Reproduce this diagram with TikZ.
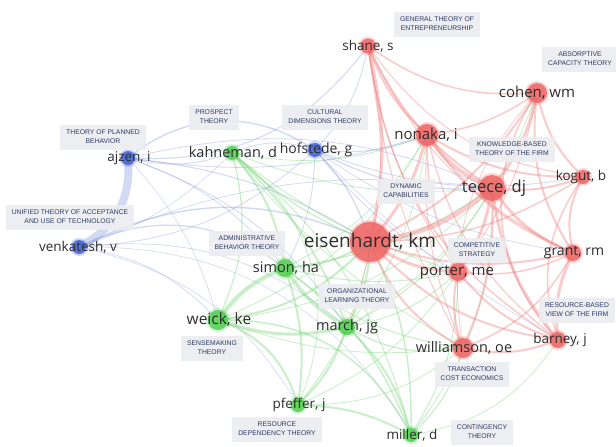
\documentclass[tikz,border=0pt]{standalone}
\usepackage{fontspec}
\setmainfont{Open Sans}
\newfontfamily\boxfont{Liberation Sans}
\definecolor{eRed}{RGB}{242,140,140}
\definecolor{eGreen}{RGB}{120,215,120}
\definecolor{eBlue}{RGB}{140,160,225}
\definecolor{nRed}{RGB}{238,95,95}
\definecolor{nGreen}{RGB}{75,205,75}
\definecolor{nBlue}{RGB}{55,90,215}
\definecolor{boxGray}{RGB}{236,237,240}
\definecolor{boxText}{RGB}{45,58,100}
\definecolor{labGray}{RGB}{45,45,45}
\tikzset{
  redE/.style={draw=eRed, line width=#1, draw opacity=0.45, line cap=round},
  greenE/.style={draw=eGreen, line width=#1, draw opacity=0.40, line cap=round},
  blueE/.style={draw=eBlue, line width=#1, draw opacity=0.40, line cap=round},
  lab/.style={font=\fontsize{#1}{#1}\selectfont, text=labGray, inner sep=0pt},
  theory/.style={fill=boxGray, fill opacity=0.9, text opacity=1, text=boxText,
    font=\boxfont\fontsize{6.8}{8.8}\selectfont, align=center,
    inner xsep=6pt, inner ysep=3.5pt, minimum height=25pt}
}
\begin{document}
\begin{tikzpicture}[x=1pt,y=-1pt]
\useasboundingbox (0,0) rectangle (616,447);
\fill[white] (0,0) rectangle (616,447);

% ---- node positions ----
\foreach \n/\x/\y in {sha/368/46, coh/537/93, non/427/135, kah/232/153,
  hof/315/150, ajz/128/158, tee/492/188, kog/583/177, eis/370/242,
  ven/79/247, sim/285/268, gra/573/253, por/458/272, wei/218/320,
  mar/347/327, wil/463/348, bar/558/340, pfe/298/405, mil/411/435}
  \node[circle, inner sep=0pt, minimum size=10pt] (\n) at (\x,\y) {};

% ---- edges ----
\draw[blueE=8] (ajz) to[bend left=32] (ven);
\foreach \a/\b/\w/\k in {
  ajz/hof/1.4/28, ajz/sha/1/-22, ajz/eis/1/10, ajz/sim/0.8/12, ajz/tee/0.8/14,
  ajz/non/0.8/-10, ajz/kah/0.8/-12, ajz/mar/0.8/14, ajz/wei/0.6/10,
  ven/eis/1.4/20, ven/sim/1.2/24, ven/hof/0.8/-15, ven/tee/0.7/12,
  ven/mar/0.7/18, ven/wei/0.7/14, ven/pfe/0.6/18, ven/mil/0.6/24, ven/kah/0.6/-10,
  hof/eis/1.2/10, hof/tee/1.2/-12, hof/non/1/-10, hof/kog/0.8/-12, hof/por/0.8/-8,
  hof/sha/0.8/-12, hof/sim/0.8/10, hof/kah/0.8/-15, hof/gra/0.7/-10, hof/bar/0.6/-6}
  {\pgfmathsetmacro\kk{1.25*\k}
  \draw[blueE=\w] (\a) to[bend left=\kk] (\b);}
% green
\foreach \a/\b/\w/\k in {
  kah/sim/2/12, kah/mar/1.8/10, kah/eis/1.2/-8, kah/wei/1.2/15, kah/mil/1/14,
  kah/tee/0.8/-10, kah/por/1/-8, kah/wil/0.8/-8, kah/pfe/0.8/30, kah/non/0.8/-12,
  sim/wei/4/-12, sim/mar/3.5/-10, sim/eis/2/-10, sim/pfe/2/10, sim/mil/1.4/12,
  sim/wil/1/-12, sim/tee/1/-10, sim/por/1/-10, sim/non/0.8/-12,
  wei/mar/3/-12, wei/eis/2/-15, wei/pfe/2/20, wei/mil/1.5/25, wei/tee/0.8/-15,
  wei/non/0.8/-15, wei/wil/0.8/-10,
  mar/eis/2/-10, mar/pfe/2/10, mar/mil/2/12, mar/tee/1/-12, mar/wil/1.2/-15,
  mar/coh/0.8/-15, mar/non/0.8/-12, mar/por/1/-12,
  pfe/mil/2/10, pfe/eis/1/-12, pfe/wil/0.8/-15, pfe/por/0.8/-12,
  mil/eis/1.5/-10, mil/por/1/-12, mil/wil/1.2/-12, mil/tee/0.8/-15, mil/bar/0.8/-18}
  {\pgfmathsetmacro\kk{1.25*\k}
  \draw[greenE=\w] (\a) to[bend left=\kk] (\b);}
% red
\foreach \a/\b/\w/\k in {
  sha/non/2/-10, sha/tee/2/-12, sha/eis/3/10, sha/coh/1.5/-15, sha/bar/1.5/-20,
  sha/kog/1/-18, sha/gra/1/-15, sha/por/1/-10, sha/wil/1/-8, sha/mar/0.8/12,
  coh/non/1.5/10, coh/tee/3/10, coh/kog/2/-12, coh/gra/2/-15, coh/eis/2/12,
  coh/bar/1.5/-30, coh/por/1/10, coh/wil/0.8/-20,
  non/tee/4/-12, non/eis/3/10, non/kog/2/-12, non/gra/2/-12, non/por/1.5/-10,
  non/bar/1.2/-15, non/wil/1/-10,
  tee/eis/5/12, tee/gra/3/-12, tee/bar/3/-12, tee/por/3/10, tee/kog/2/-10,
  tee/wil/2/10,
  eis/por/3/-12, eis/gra/2/-12, eis/bar/2/-15, eis/wil/2/-15, eis/kog/1.5/-12,
  por/wil/2/-12, por/bar/2/-12, por/gra/1.5/-12,
  wil/bar/2/-12, wil/gra/1.5/-15, gra/bar/3/-12, kog/gra/2/-15, kog/bar/1.5/-20}
  {\pgfmathsetmacro\kk{1.25*\k}
  \draw[redE=\w] (\a) to[bend left=\kk] (\b);}

% ---- circles (soft halo + core) ----
\foreach \n/\s/\c in {sha/15/nRed, coh/20/nRed, non/22/nRed, tee/26/nRed,
  kog/14/nRed, eis/40/nRed, gra/16/nRed, por/18/nRed, wil/20/nRed, bar/16/nRed,
  kah/14/nGreen, sim/18/nGreen, wei/20/nGreen, mar/16/nGreen, pfe/14/nGreen,
  mil/14/nGreen, hof/14/nBlue, ajz/14/nBlue, ven/14/nBlue}
  {\fill[\c, fill opacity=0.25] (\n) circle[radius=\s/2+2];
   \fill[\c, fill opacity=0.8] (\n) circle[radius=\s/2];}

% ---- theory boxes ----
\node[theory] (tGen) at (437,24) {GENERAL THEORY OF\\ENTREPRENEURSHIP};
\node[theory] (tAbs) at (580,59) {ABSORPTIVE\\CAPACITY THEORY};
\node[theory] (tPro) at (214,117) {PROSPECT\\THEORY};
\node[theory] (tCul) at (325,117) {CULTURAL\\DIMENSIONS THEORY};
\node[theory] (tTpb) at (103,137) {THEORY OF PLANNED\\BEHAVIOR};
\node[theory] (tKbt) at (512,149) {KNOWLEDGE-BASED\\THEORY OF THE FIRM};
\node[theory] (tDyn) at (406,191) {DYNAMIC\\CAPABILITIES};
\node[theory] (tUta) at (70,217) {UNIFIED THEORY OF ACCEPTANCE\\AND USE OF TECHNOLOGY};
\node[theory] (tAdm) at (247,243) {ADMINISTRATIVE\\BEHAVIOR THEORY};
\node[theory] (tCom) at (477,250) {COMPETITIVE\\STRATEGY};
\node[theory] (tOlt) at (357,296) {ORGANIZATIONAL\\LEARNING THEORY};
\node[theory] (tRbv) at (577,310) {RESOURCE-BASED\\VIEW OF THE FIRM};
\node[theory] (tSen) at (212,348) {SENSEMAKING\\THEORY};
\node[theory] (tTce) at (472,374) {TRANSACTION\\COST ECONOMICS};
\node[theory] (tRdt) at (277,429) {RESOURCE\\DEPENDENCY THEORY};
\node[theory] (tCon) at (482,432) {CONTINGENCY\\THEORY};

% ---- author labels ----
\node[lab=13.5] (lSha) at (368,46) {shane, s};
\node[lab=15] (lCoh) at (537,93) {cohen, wm};
\node[lab=15] (lNon) at (426,135) {nonaka, i};
\node[lab=14.5] (lKah) at (233,153) {kahneman, d};
\node[lab=14] (lHof) at (316,150) {hofstede, g};
\node[lab=13.5] (lAjz) at (129,158) {ajzen, i};
\node[lab=16.5] (lTee) at (494,188) {teece, dj};
\node[lab=13.5] (lKog) at (581,177) {kogut, b};
\node[lab=19] (lEis) at (370,242) {eisenhardt, km};
\node[lab=13.5] (lVen) at (78,247) {venkatesh, v};
\node[lab=14.5] (lSim) at (286,268) {simon, ha};
\node[lab=14] (lGra) at (574,253) {grant, rm};
\node[lab=15] (lPor) at (457,272) {porter, me};
\node[lab=15.5] (lWei) at (219,320) {weick, ke};
\node[lab=14.5] (lMar) at (347,327) {march, jg};
\node[lab=14.5] (lWil) at (464,348) {williamson, oe};
\node[lab=13.5] (lBar) at (560,340) {barney, j};
\node[lab=13.5] (lPfe) at (299,405) {pfeffer, j};
\node[lab=13.5] (lMil) at (412,435) {miller, d};
\end{tikzpicture}
\end{document}
